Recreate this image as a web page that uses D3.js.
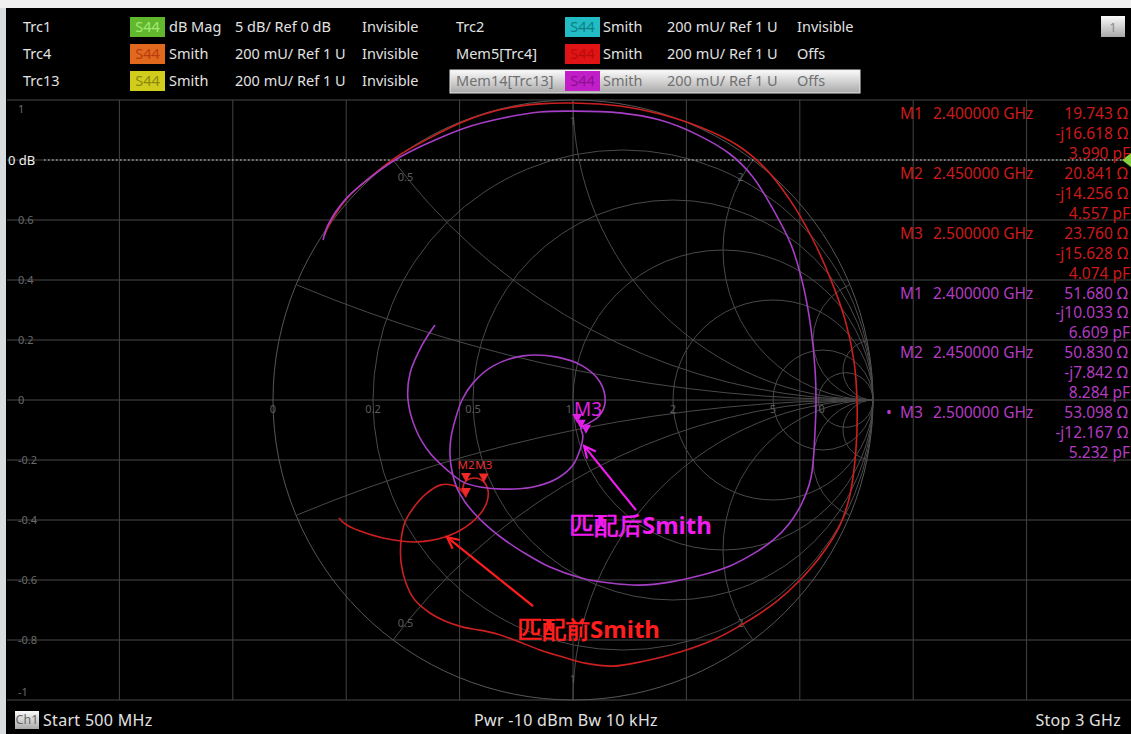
<!DOCTYPE html>
<html>
<head>
<meta charset="utf-8">
<script src="https://cdn.jsdelivr.net/npm/d3@7"></script>
<style>
  body { margin: 0; background: #000; overflow: hidden; }
  text { font-family: "Noto Sans", "Open Sans", sans-serif; }
</style>
</head>
<body>
<script>
// trace table in the header
const traceNames = ['Trc1', 'Trc4', 'Trc13', 'Trc2', 'Mem5[Trc4]', 'Mem14[Trc13]']
const traceColors = ['#62b82c', '#e0691e', '#d2cc1c', '#22bcc4', '#e01414', '#c21ec8']
const badgeTextColors = ['#a4e878', '#b83a10', '#8a8a10', '#0e7e86', '#b80c0c', '#8a1090']
const traceFormats = ['dB Mag', 'Smith', 'Smith', 'Smith', 'Smith', 'Smith']
const traceScales = ['5 dB/ Ref 0 dB', '200 mU/ Ref 1 U', '200 mU/ Ref 1 U', '200 mU/ Ref 1 U', '200 mU/ Ref 1 U', '200 mU/ Ref 1 U']
const traceStates = ['Invisible', 'Invisible', 'Invisible', 'Invisible', 'Offs', 'Offs']

// grid
const yTicks = [1, 0.8, 0.6, 0.4, 0.2, 0, -0.2, -0.4, -0.6, -0.8, -1]
const gridCols = [-4, -3, -2, -1, 0, 1, 2, 3, 4]
const smithR = [0.2, 0.5, 1, 2, 5, 10]
const smithX = [0.2, 0.5, 1, 2, 5, 10]
const rLabels = [0, 0.2, 0.5, 1, 2, 5, 10]
const xLabels = [0.5, 1, 2]
const refLevel = 0.8   // where the 0 dB line of Trc1 sits

// markers (impedance read-out, ohms / pF)
const markerNames = ['M1', 'M2', 'M3']
const markerFreqs = ['2.400000 GHz', '2.450000 GHz', '2.500000 GHz']
const beforeR = [19.743, 20.841, 23.760]
const beforeX = [-16.618, -14.256, -15.628]
const beforeC = [3.990, 4.557, 4.074]
const afterR = [51.680, 50.830, 53.098]
const afterX = [-10.033, -7.842, -12.167]
const afterC = [6.609, 8.284, 5.232]

// traces, reflection coefficient [re, im], 500 MHz -> 3 GHz
const beforeTrace = [
  [-0.830, 0.547], [-0.800, 0.607], [-0.753, 0.673], [-0.687, 0.733], [-0.593, 0.807],
  [-0.490, 0.867], [-0.360, 0.930], [-0.233, 0.970], [-0.110, 0.987], [0.000, 0.990],
  [0.157, 0.980], [0.290, 0.953], [0.423, 0.910], [0.547, 0.850], [0.640, 0.773],
  [0.723, 0.667], [0.797, 0.540], [0.857, 0.407], [0.907, 0.267], [0.937, 0.127],
  [0.947, -0.017], [0.943, -0.167], [0.923, -0.317], [0.890, -0.417], [0.833, -0.510],
  [0.757, -0.600], [0.677, -0.673], [0.573, -0.743], [0.467, -0.800], [0.357, -0.840],
  [0.240, -0.870], [0.133, -0.887], [0.040, -0.877], [-0.033, -0.857], [-0.110, -0.833],
  [-0.187, -0.803], [-0.253, -0.780], [-0.310, -0.767], [-0.367, -0.757], [-0.427, -0.737],
  [-0.477, -0.710], [-0.527, -0.667], [-0.557, -0.610], [-0.573, -0.543], [-0.573, -0.467],
  [-0.560, -0.407], [-0.530, -0.357], [-0.490, -0.313], [-0.440, -0.283], [-0.393, -0.287],
  [-0.367, -0.307], [-0.357, -0.323], [-0.367, -0.293], [-0.357, -0.270], [-0.327, -0.260],
  [-0.297, -0.273], [-0.283, -0.303], [-0.287, -0.340], [-0.307, -0.377], [-0.357, -0.423],
  [-0.427, -0.457], [-0.520, -0.473], [-0.633, -0.460], [-0.710, -0.437], [-0.760, -0.413],
  [-0.780, -0.393]
]
const afterTrace = [
  [-0.833, 0.533], [-0.817, 0.583], [-0.760, 0.667], [-0.687, 0.733], [-0.593, 0.800],
  [-0.490, 0.853], [-0.360, 0.907], [-0.233, 0.940], [-0.110, 0.960], [0.000, 0.963],
  [0.157, 0.957], [0.290, 0.933], [0.417, 0.883], [0.523, 0.820], [0.597, 0.747],
  [0.663, 0.643], [0.727, 0.517], [0.767, 0.383], [0.793, 0.240], [0.807, 0.100],
  [0.810, 0.000], [0.807, -0.100], [0.793, -0.260], [0.760, -0.350], [0.720, -0.413],
  [0.667, -0.467], [0.610, -0.507], [0.523, -0.553], [0.417, -0.587], [0.323, -0.607],
  [0.223, -0.617], [0.123, -0.610], [0.027, -0.593], [-0.077, -0.557], [-0.167, -0.507],
  [-0.237, -0.460], [-0.283, -0.423], [-0.327, -0.380], [-0.360, -0.340], [-0.387, -0.293],
  [-0.403, -0.240], [-0.410, -0.183], [-0.407, -0.127], [-0.393, -0.067], [-0.370, 0.000],
  [-0.333, 0.057], [-0.267, 0.113], [-0.167, 0.147], [-0.053, 0.143], [0.033, 0.113],
  [0.090, 0.060], [0.107, -0.007], [0.087, -0.053], [0.053, -0.077], [0.027, -0.093],
  [0.033, -0.120], [0.023, -0.167], [0.000, -0.217], [-0.050, -0.260], [-0.133, -0.290],
  [-0.233, -0.297], [-0.310, -0.290], [-0.367, -0.273], [-0.420, -0.233], [-0.477, -0.177],
  [-0.523, -0.100], [-0.550, 0.000], [-0.543, 0.090], [-0.503, 0.183], [-0.460, 0.250]
]

// hand-drawn notes: text, colour, arrow tip, arrow tail, text start (all in gamma)
const notes = [
  { text: '匹配后Smith', color: '#f01cf0', tip: [0.037, -0.153], tail: [0.21, -0.367], at: [-0.01, -0.445] },
  { text: '匹配前Smith', color: '#ff1e1e', tip: [-0.42, -0.457], tail: [-0.133, -0.687], at: [-0.183, -0.792] }
]

const W = 1131
const H = 734
const RED = '#cc2020'
const PURPLE = '#a63ec6'

const svg = d3.select('body').append('svg')
  .attr('width', W)
  .attr('height', H)

const gx = d3.scaleLinear().domain([-1, 1]).range([273, 873])
const gy = d3.scaleLinear().domain([-1, 1]).range([700, 100])
const vx = d3.scaleLinear().domain([-5, 5]).range([6, 1140])
const R = gx(1) - gx(0)

const gamma = (res, reac) => {
  const r = res / 50, x = reac / 50
  const den = (r + 1) * (r + 1) + x * x
  return [(r * r + x * x - 1) / den, 2 * x / den]
}

svg.append('rect').attr('width', W).attr('height', H).attr('fill', '#000')
svg.append('rect').attr('width', 6).attr('height', H).attr('fill', '#d6dce0')
svg.append('rect').attr('width', W).attr('height', 8).attr('fill', '#f0f0f0')

// rectangular grid
svg.selectAll('line.hg')
  .data(yTicks)
  .enter()
  .append('line')
  .attr('x1', 7).attr('x2', W)
  .attr('y1', d => gy(d)).attr('y2', d => gy(d))
  .attr('stroke', '#484848')

svg.selectAll('line.vg')
  .data(gridCols)
  .enter()
  .append('line')
  .attr('x1', d => vx(d)).attr('x2', d => vx(d))
  .attr('y1', gy(1)).attr('y2', gy(-1))
  .attr('stroke', '#444')

svg.selectAll('text.yl')
  .data(yTicks.filter(d => d !== refLevel))
  .enter()
  .append('text')
  .attr('x', 18)
  .attr('y', d => Math.min(Math.max(gy(d), gy(1) + 9), gy(-1) - 8))
  .attr('dy', '0.35em')
  .attr('font-size', 11)
  .attr('fill', '#6a6a6a')
  .text(d => d)

// smith grid
svg.append('clipPath').attr('id', 'unit')
  .append('circle').attr('cx', gx(0)).attr('cy', gy(0)).attr('r', R)

const smith = svg.append('g').attr('fill', 'none').attr('stroke', '#4a4a4a')
smith.append('circle').attr('cx', gx(0)).attr('cy', gy(0)).attr('r', R).attr('stroke', '#575757')
smith.selectAll('circle.r')
  .data(smithR)
  .enter()
  .append('circle')
  .attr('cx', d => gx(d / (1 + d)))
  .attr('cy', gy(0))
  .attr('r', d => R / (1 + d))
smith.append('g').attr('clip-path', 'url(#unit)')
  .selectAll('circle')
  .data(smithX.concat(smithX.map(d => -d)))
  .enter()
  .append('circle')
  .attr('cx', gx(1))
  .attr('cy', d => gy(1 / d))
  .attr('r', d => R / Math.abs(d))

svg.selectAll('text.rl')
  .data(rLabels)
  .enter()
  .append('text')
  .attr('x', d => gx((d - 1) / (d + 1)) - (d === 1 ? 4 : 0))
  .attr('y', gy(0) + 13)
  .attr('text-anchor', 'middle')
  .attr('font-size', 11)
  .attr('fill', '#5c5c5c')
  .text(d => d)

svg.selectAll('text.xl')
  .data(xLabels.concat(xLabels.map(d => -d)))
  .enter()
  .append('text')
  .attr('x', d => gx(0.93 * (d * d - 1) / (d * d + 1)))
  .attr('y', d => gy(0.93 * 2 * d / (d * d + 1)))
  .attr('dy', '0.35em')
  .attr('text-anchor', 'middle')
  .attr('font-size', 11)
  .attr('fill', '#5c5c5c')
  .text(d => Math.abs(d))

// 0 dB reference line
svg.append('line')
  .attr('x1', 44).attr('x2', W - 8)
  .attr('y1', gy(refLevel)).attr('y2', gy(refLevel))
  .attr('stroke', '#d8d8d8')
  .attr('stroke-dasharray', '1.5,2.5')
svg.append('text')
  .attr('x', 8).attr('y', gy(refLevel)).attr('dy', '0.35em')
  .attr('font-size', 13)
  .attr('fill', '#f0f0f0')
  .text('0 dB')
svg.append('path')
  .attr('d', `M${W},${gy(refLevel) - 7}L${W - 9},${gy(refLevel)}L${W},${gy(refLevel) + 7}Z`)
  .attr('fill', '#86d040')

// traces
const line = d3.line()
  .x(d => gx(d[0]))
  .y(d => gy(d[1]))
  .curve(d3.curveCatmullRom.alpha(0.5))

svg.append('path').attr('d', line(beforeTrace))
  .attr('fill', 'none').attr('stroke', RED).attr('stroke-width', 1.6)
svg.append('path').attr('d', line(afterTrace))
  .attr('fill', 'none').attr('stroke', PURPLE).attr('stroke-width', 1.6)

// markers on traces
const tri = (p) => {
  const x = gx(p[0]), y = gy(p[1])
  return `M${x - 5},${y - 9}L${x + 5},${y - 9}L${x},${y}Z`
}
const beforePts = beforeR.map((r, i) => gamma(r, beforeX[i]))
const afterPts = afterR.map((r, i) => gamma(r, afterX[i]))

svg.selectAll('path.mb')
  .data(beforePts)
  .enter()
  .append('path')
  .attr('d', tri)
  .attr('fill', '#f02828')
svg.selectAll('text.mb')
  .data(beforePts.slice(1))
  .enter()
  .append('text')
  .attr('x', d => gx(d[0]))
  .attr('y', d => gy(d[1]) - 13)
  .attr('text-anchor', 'middle')
  .attr('font-size', 11.5)
  .attr('fill', '#e83030')
  .text((d, i) => markerNames[i + 1])

svg.selectAll('path.ma')
  .data(afterPts)
  .enter()
  .append('path')
  .attr('d', tri)
  .attr('fill', '#e020e8')
svg.append('text')
  .attr('x', gx(afterPts[2][0]) + 2)
  .attr('y', gy(afterPts[2][1]) - 18)
  .attr('text-anchor', 'middle')
  .attr('font-size', 19)
  .attr('fill', '#e020e8')
  .text(markerNames[2])

// notes with arrows
notes.forEach(n => {
  const x1 = gx(n.tail[0]), y1 = gy(n.tail[1])
  const x2 = gx(n.tip[0]), y2 = gy(n.tip[1])
  const a = Math.atan2(y2 - y1, x2 - x1)
  const hl = 13
  svg.append('line')
    .attr('x1', x1).attr('y1', y1).attr('x2', x2).attr('y2', y2)
    .attr('stroke', n.color).attr('stroke-width', 2.2)
  svg.append('path')
    .attr('d', `M${x2 - hl * Math.cos(a - 0.45)},${y2 - hl * Math.sin(a - 0.45)}L${x2},${y2}L${x2 - hl * Math.cos(a + 0.45)},${y2 - hl * Math.sin(a + 0.45)}`)
    .attr('fill', 'none').attr('stroke', n.color).attr('stroke-width', 2.2)
  svg.append('text')
    .attr('x', gx(n.at[0])).attr('y', gy(n.at[1]))
    .attr('font-family', '"Noto Sans CJK SC", "Noto Sans", sans-serif')
    .attr('font-weight', 'bold')
    .attr('font-size', 24)
    .attr('fill', n.color)
    .text(n.text)
})

// marker read-out on the right
const fmtX = v => (v < 0 ? '-j' : 'j') + Math.abs(v).toFixed(3) + ' Ω'
const readout = [
  { color: '#cc1a1a', res: beforeR, reac: beforeX, cap: beforeC },
  { color: '#b43cc2', res: afterR, reac: afterX, cap: afterC }
]
const lineY = i => 114 + i * 19.9
readout.forEach((blk, b) => {
  markerNames.forEach((m, i) => {
    const row = b * 9 + i * 3
    const g = svg.append('g').attr('fill', blk.color).attr('font-size', 15.5)
    g.append('text').attr('x', 900).attr('y', lineY(row)).attr('dy', '0.35em').text(m)
    g.append('text').attr('x', 933).attr('y', lineY(row)).attr('dy', '0.35em').text(markerFreqs[i])
    g.append('text').attr('x', 1128).attr('y', lineY(row)).attr('dy', '0.35em')
      .attr('text-anchor', 'end').text(blk.res[i].toFixed(3) + ' Ω')
    g.append('text').attr('x', 1128).attr('y', lineY(row + 1)).attr('dy', '0.35em')
      .attr('text-anchor', 'end').text(fmtX(blk.reac[i]))
    g.append('text').attr('x', 1130).attr('y', lineY(row + 2)).attr('dy', '0.35em')
      .attr('text-anchor', 'end').text(blk.cap[i].toFixed(3) + ' pF')
    if (b === 1 && i === 2) {
      g.append('text').attr('x', 886).attr('y', lineY(row)).attr('dy', '0.35em').text('•')
    }
  })
})

// header
const defs = svg.append('defs')
const grad = defs.append('linearGradient').attr('id', 'hl').attr('x1', 0).attr('x2', 0).attr('y1', 0).attr('y2', 1)
grad.append('stop').attr('offset', '0%').attr('stop-color', '#fbfbfb')
grad.append('stop').attr('offset', '100%').attr('stop-color', '#a9a9a9')

const rowY = [27, 54, 81]
const colX = [
  { name: 23, badge: 130, fmt: 169, scale: 235, state: 362 },
  { name: 456, badge: 565, fmt: 603, scale: 667, state: 797 }
]
svg.append('rect')
  .attr('x', 450).attr('y', 70).attr('width', 410).attr('height', 23)
  .attr('fill', 'url(#hl)').attr('stroke', '#e8e8e8')

traceNames.forEach((t, i) => {
  const c = colX[Math.floor(i / 3)]
  const y = rowY[i % 3]
  const active = i === 5
  const fg = active ? '#707070' : '#e2e2e2'
  const g = svg.append('g').attr('font-size', 14.5)
  g.append('text').attr('x', c.name).attr('y', y).attr('dy', '0.35em').attr('fill', fg).text(t)
  g.append('rect').attr('x', c.badge).attr('y', y - 10).attr('width', 35).attr('height', 20).attr('fill', traceColors[i])
  g.append('text').attr('x', c.badge + 17.5).attr('y', y).attr('dy', '0.35em')
    .attr('text-anchor', 'middle').attr('fill', badgeTextColors[i]).text('S44')
  g.append('text').attr('x', c.fmt).attr('y', y).attr('dy', '0.35em').attr('fill', fg).text(traceFormats[i])
  g.append('text').attr('x', c.scale).attr('y', y).attr('dy', '0.35em').attr('fill', fg).text(traceScales[i])
  g.append('text').attr('x', c.state).attr('y', y).attr('dy', '0.35em').attr('fill', fg).text(traceStates[i])
})

svg.append('rect').attr('x', 1101).attr('y', 16).attr('width', 24).attr('height', 21).attr('fill', 'url(#hl)')
svg.append('text').attr('x', 1113).attr('y', 27).attr('dy', '0.35em').attr('text-anchor', 'middle')
  .attr('font-size', 13).attr('fill', '#8a8a8a').text('1')

// footer
const foot = svg.append('g').attr('font-size', 16).attr('letter-spacing', 0.3).attr('fill', '#e2e2e2')
svg.append('rect').attr('x', 15).attr('y', 711).attr('width', 24).attr('height', 18).attr('fill', 'url(#hl)')
svg.append('text').attr('x', 27).attr('y', 720).attr('dy', '0.35em').attr('text-anchor', 'middle')
  .attr('font-size', 12.5).attr('fill', '#666').text('Ch1')
foot.append('text').attr('x', 43).attr('y', 720).attr('dy', '0.35em').text('Start  500 MHz')
foot.append('text').attr('x', 566).attr('y', 720).attr('dy', '0.35em').attr('text-anchor', 'middle')
  .text('Pwr  -10 dBm  Bw  10 kHz')
foot.append('text').attr('x', 1121).attr('y', 720).attr('dy', '0.35em').attr('text-anchor', 'end')
  .text('Stop  3 GHz')
</script>
</body>
</html>
